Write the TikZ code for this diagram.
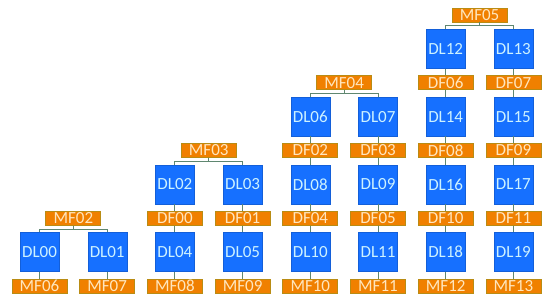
\documentclass[tikz,border=0pt]{standalone}
\usepackage{fontspec}
\setmainfont{Carlito}
\definecolor{dlblue}{RGB}{22,112,255}
\definecolor{dltext}{RGB}{205,242,255}
\definecolor{forange}{RGB}{240,128,0}
\definecolor{fedge}{RGB}{185,140,20}
\definecolor{ftext}{RGB}{255,230,190}
\definecolor{wgray}{RGB}{95,135,112}
\tikzset{dlbox/.style={fill=dlblue,draw=dlblue!85!black,line width=0.4pt,text=dltext,
           minimum width=39,minimum height=39,inner sep=0pt},
         flab/.style={fill=forange,draw=fedge,line width=0.8pt,text=ftext,
           minimum width=55,minimum height=14,inner sep=0pt},
         wire/.style={wgray,line width=0.9pt}}

\begin{document}
\begin{tikzpicture}[x=1pt,y=-1pt,font=\fontsize{17}{17}\selectfont]
    \def\dx{67.7}\def\dy{67.75}
    \useasboundingbox (0,0) rectangle (550,304);
    % merge labels on top of each pair
    \foreach \n/\c/\r in {02/0/3,03/2/2,04/4/1,05/6/0}
      \node[flab] (MF\n) at ({39.5+\dx*(\c+0.5)},{15+\dy*\r}) {MF\n};
    \foreach \n/\c/\r in {00/0/3,01/1/3,02/2/2,03/3/2,04/2/3,05/3/3,
                         06/4/1,07/5/1,08/4/2,09/5/2,10/4/3,11/5/3,
                         12/6/0,13/7/0,14/6/1,15/7/1,16/6/2,17/7/2,18/6/3,19/7/3}
      \node[dlbox] (DL\n) at ({39.5+\dx*\c},{48.9+\dy*\r}) {DL\n};
    \foreach \n/\c/\r in {00/2/3,01/3/3,02/4/2,03/5/2,04/4/3,05/5/3,
                         06/6/1,07/7/1,08/6/2,09/7/2,10/6/3,11/7/3}
      \node[flab] (DF\n) at ({39.5+\dx*\c},{15+\dy*\r}) {DF\n};
    \foreach \n/\c in {06/0,07/1,08/2,09/3,10/4,11/5,12/6,13/7}
      \node[flab] (MF\n) at ({39.5+\dx*\c},{15+\dy*4}) {MF\n};
    % forks
    \foreach \p/\a/\b in {02/00/01,03/02/03,04/06/07,05/12/13} {
      \draw[wire] (MF\p.south) -- ++(0,3.5) -| (DL\a.north);
      \draw[wire] (MF\p.south) -- ++(0,3.5) -| (DL\b.north);
    }
    % columns
    \foreach \a/\b in {DL00/MF06,DL01/MF07,
                       DL02/DF00,DF00/DL04,DL04/MF08,DL03/DF01,DF01/DL05,DL05/MF09,
                       DL06/DF02,DF02/DL08,DL08/DF04,DF04/DL10,DL10/MF10,
                       DL07/DF03,DF03/DL09,DL09/DF05,DF05/DL11,DL11/MF11,
                       DL12/DF06,DF06/DL14,DL14/DF08,DF08/DL16,DL16/DF10,DF10/DL18,DL18/MF12,
                       DL13/DF07,DF07/DL15,DL15/DF09,DF09/DL17,DL17/DF11,DF11/DL19,DL19/MF13}
      \draw[wire] (\a) -- (\b);
\end{tikzpicture}
\end{document}
